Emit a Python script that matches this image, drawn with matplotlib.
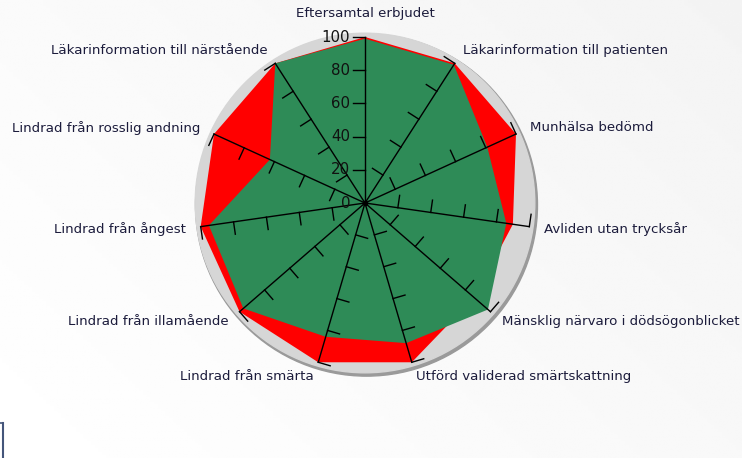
import numpy as np
import matplotlib
matplotlib.use("Agg")
import matplotlib.pyplot as plt
from matplotlib.patches import Circle, Polygon

categories = ["Eftersamtal erbjudet",
              "Läkarinformation till patienten",
              "Munhälsa bedömd",
              "Avliden utan trycksår",
              "Mänsklig närvaro i dödsögonblicket",
              "Utförd validerad smärtskattning",
              "Lindrad från smärta",
              "Lindrad från illamående",
              "Lindrad från ångest",
              "Lindrad från rosslig andning",
              "Läkarinformation till närstående"]
target = [100, 100, 100, 90, 87, 100, 100, 100, 100, 100, 100]   # red
result = [99, 99, 81, 86, 98, 88, 84, 97, 95, 63, 100]         # green
ticks = [0, 20, 40, 60, 80, 100]

W, H = 742, 458
cx, cy = 365, 203      # centre in pixels
px = 1.66              # pixels per unit

fig = plt.figure(figsize=(W / 100, H / 100), dpi=100)
ax = fig.add_axes([0, 0, 1, 1])
ax.set_xlim(-cx / px, (W - cx) / px)
ax.set_ylim(-(H - cy) / px, cy / px)
ax.axis("off")

# soft background gradient
gx, gy = np.meshgrid(np.linspace(0, 1, 200), np.linspace(0, 1, 200))
grad = 1 - 0.045 * (0.6 * gx + 0.4 * gy)
ax.imshow(grad, cmap="gray", vmin=0, vmax=1, aspect="auto", zorder=0,
          extent=[*ax.get_xlim(), ax.get_ylim()[1], ax.get_ylim()[0]])

n = len(categories)
ang = np.arange(n) * 2 * np.pi / n
dx, dy = np.sin(ang), np.cos(ang)

# grey disc with shadow
ax.add_patch(Circle((0.9, -1.3), 103, color="#9a9a9a", zorder=1))
ax.add_patch(Circle((0, 0), 102.3, color="#d6d6d6", zorder=2))

t = np.array(target)
r = np.array(result)
ax.add_patch(Polygon(np.c_[t * dx, t * dy], closed=True, color="#ff0000", lw=0, zorder=3))
ax.add_patch(Polygon(np.c_[r * dx, r * dy], closed=True, color="#2e8b57", lw=0, zorder=4))

tl = 7.5
for i in range(n):
    ax.plot([0, 100 * dx[i]], [0, 100 * dy[i]], color="black", lw=1.0, zorder=5)
    pxn, pyn = -dy[i], dx[i]
    for v in ticks[1:]:
        x0, y0 = v * dx[i], v * dy[i]
        ax.plot([x0, x0 + tl * pxn], [y0, y0 + tl * pyn], color="black", lw=1.0, zorder=5)

    rr = 109
    lx, ly = rr * dx[i], rr * dy[i]
    if i == 0:
        ax.text(lx, ly + 1, categories[i], ha="center", va="bottom", fontsize=9.6, color="#1c1c3c", zorder=6)
    else:
        ax.text(lx, ly, categories[i], ha="left" if dx[i] > 0 else "right", va="center",
                fontsize=9.6, color="#1c1c3c", zorder=6)

for v in ticks:
    ax.text(-9, v, str(v), ha="right", va="center", fontsize=10.8, color="#111111", zorder=6)

ax.plot(0, 0, "o", color="black", ms=3, zorder=6)

# small frame edge bottom-left
fig.add_artist(plt.Line2D([2.5 / W, 2.5 / W], [0, 35 / H], color="#44557a", lw=1.5))
fig.add_artist(plt.Line2D([0, 2.5 / W], [35 / H, 35 / H], color="#44557a", lw=1.2))

fig.savefig("out.png", dpi=100)
